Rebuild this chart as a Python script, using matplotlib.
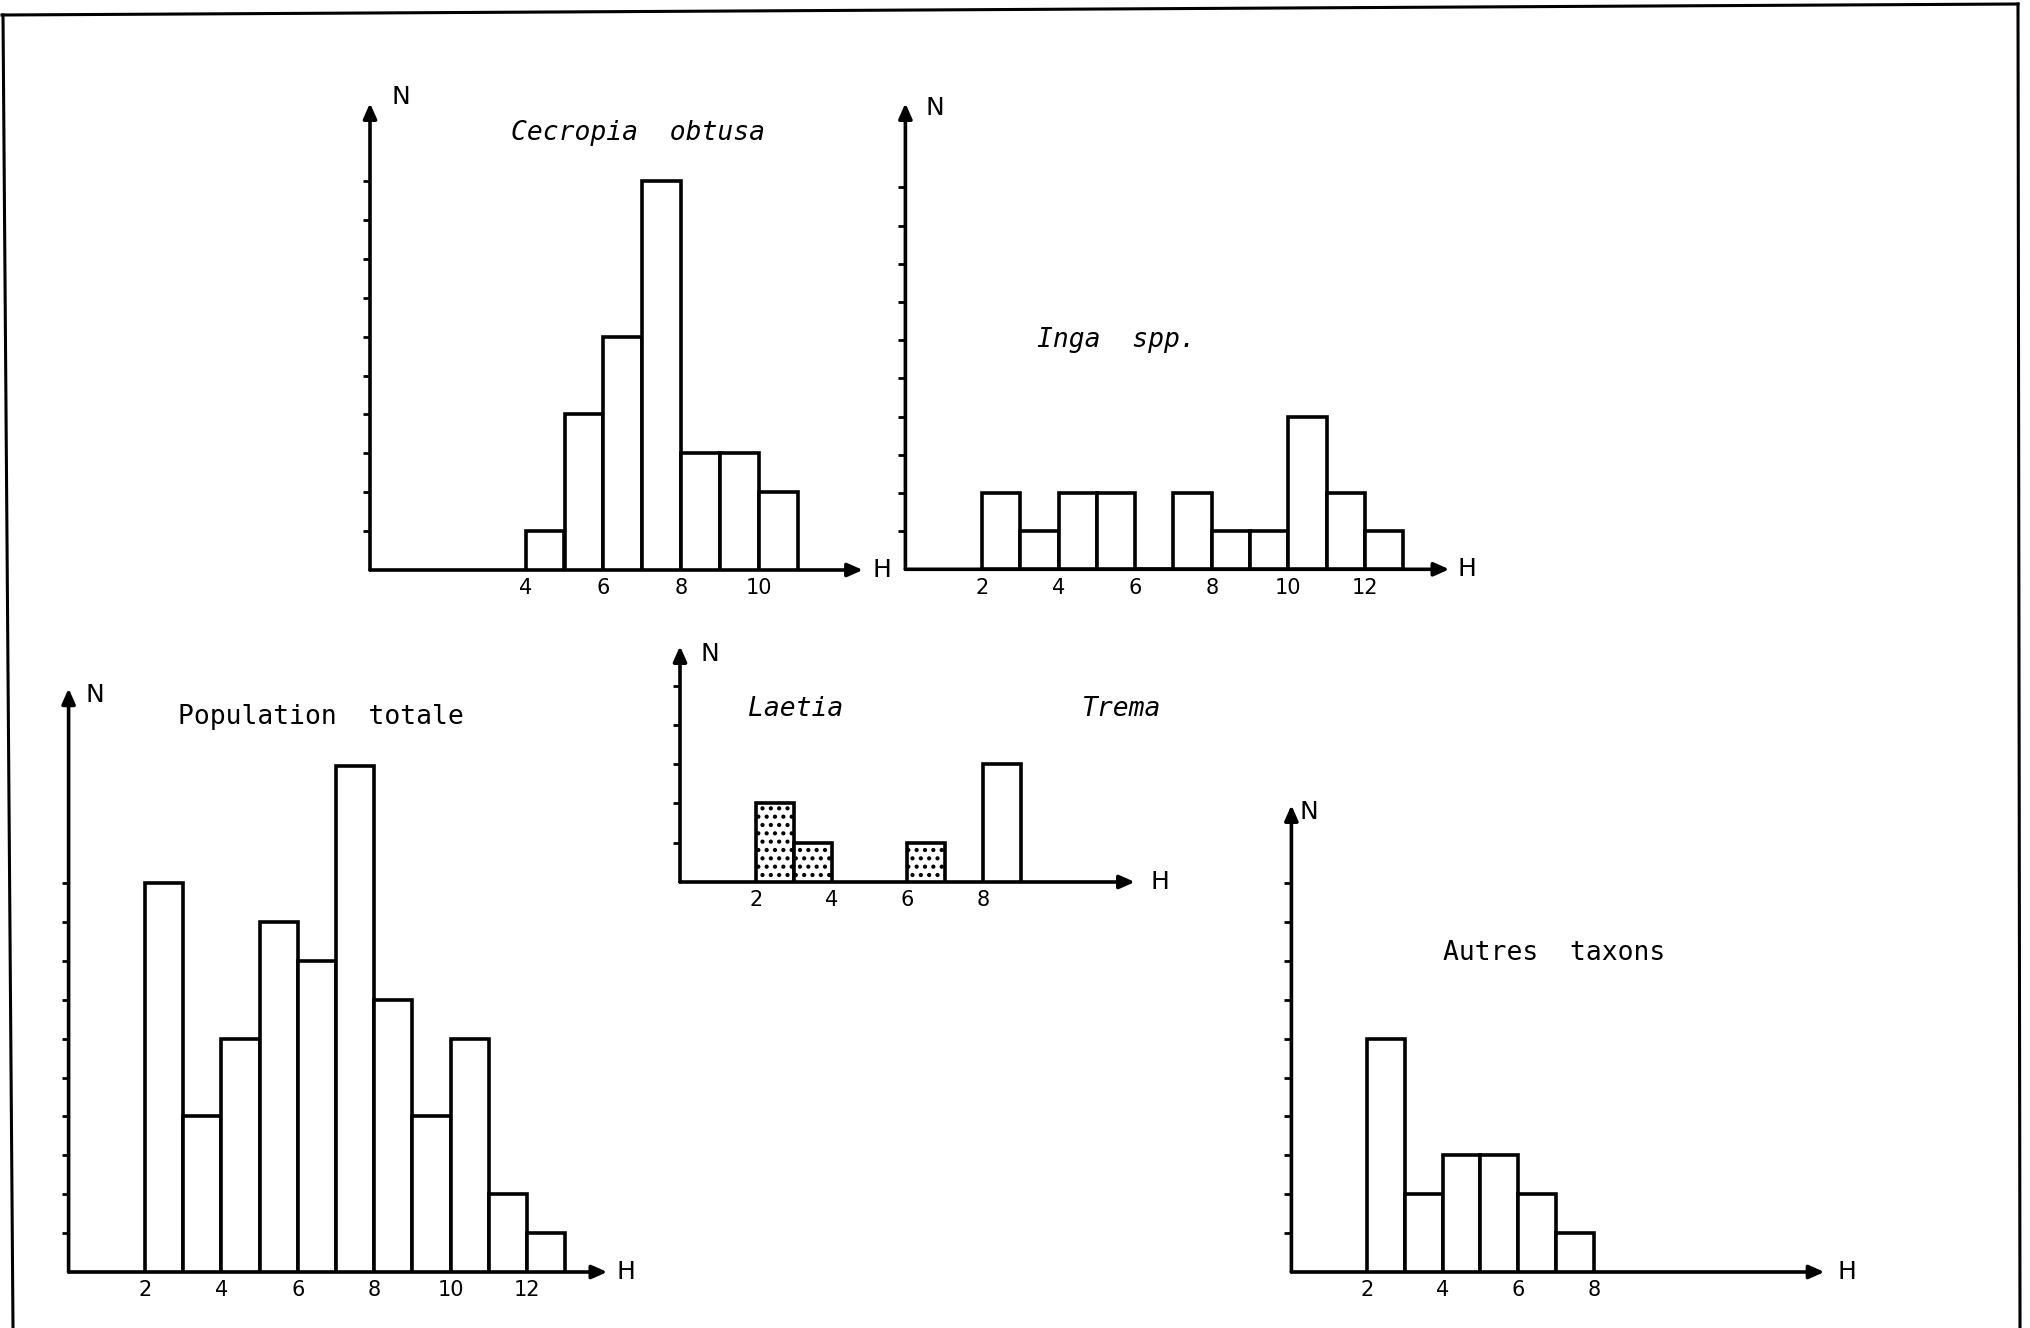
import matplotlib
matplotlib.use("Agg")
import matplotlib.pyplot as plt
from matplotlib.lines import Line2D

plt.rcParams['font.family'] = ['DejaVu Sans Mono', 'DejaVu Sans']
plt.rcParams['hatch.linewidth'] = 1.8

# ---------------- data (height classes H, counts N) ----------------
cecropia_bins = [4, 5, 6, 7, 8, 9, 10]
cecropia_n = [1, 4, 6, 10, 3, 3, 2]

inga_bins = [2, 3, 4, 5, 6, 7, 8, 9, 10, 11, 12]
inga_n = [2, 1, 2, 2, 0, 2, 1, 1, 4, 2, 1]

total_bins = [2, 3, 4, 5, 6, 7, 8, 9, 10, 11, 12]
total_n = [10, 4, 6, 9, 8, 13, 7, 4, 6, 2, 1]

laetia_bins = [2, 3, 6]
laetia_n = [2, 1, 1]

trema_bins = [8]
trema_n = [3]

autres_bins = [2, 3, 4, 5, 6, 7]
autres_n = [6, 2, 3, 3, 2, 1]

ticks_cecropia = [4, 6, 8, 10]
ticks_inga = [2, 4, 6, 8, 10, 12]
ticks_total = [2, 4, 6, 8, 10, 12]
ticks_lt = [2, 4, 6, 8]
ticks_autres = [2, 4, 6, 8]

# ---------------- layout ----------------
W, H = 2031, 1328
fig = plt.figure(figsize=(W / 100, H / 100), dpi=100)
fig.patch.set_facecolor('white')

LW = 2.6
TITLE = 19
TICK = 15
LETTER = 18
SANS = ['DejaVu Sans']


def make_axes(ox, oy, ux, uy, xmax, ymax, nticks, xticks):
    ax = fig.add_axes([ox / W, (H - oy) / H, xmax * ux / W, ymax * uy / H])
    ax.set_xlim(0, xmax)
    ax.set_ylim(0, ymax)
    for s in ax.spines.values():
        s.set_visible(False)
    ax.patch.set_visible(False)
    arrow = dict(arrowstyle='-|>,head_length=0.45,head_width=0.2', lw=LW,
                 color='black', shrinkA=0, shrinkB=0, mutation_scale=20)
    ax.annotate('', xy=(xmax, 0), xytext=(0, 0), arrowprops=arrow,
                annotation_clip=False)
    ax.annotate('', xy=(0, ymax), xytext=(0, 0), arrowprops=arrow,
                annotation_clip=False)
    ax.set_yticks(range(1, nticks + 1))
    ax.tick_params(axis='y', direction='out', length=5, width=2,
                   labelleft=False, color='black')
    ax.set_xticks(xticks)
    ax.set_xticklabels([str(t) for t in xticks], fontsize=TICK, family=SANS)
    ax.tick_params(axis='x', length=0, pad=6)
    return ax


def bars(ax, bins, n, hatch=None):
    ax.bar(bins, n, width=1, align='edge', facecolor='white',
           edgecolor='black', linewidth=LW, hatch=hatch, zorder=3)


def axis_letters(ax, nx, ny, hx):
    ax.text(nx, ny, 'N', fontsize=LETTER, family=SANS, ha='center', va='center')
    ax.text(hx, 0, 'H', fontsize=LETTER, family=SANS, ha='center', va='center')


# Cecropia obtusa
ax1 = make_axes(370, 570, 38.9, 38.9, 12.67, 12.0, 10, ticks_cecropia)
bars(ax1, cecropia_bins, cecropia_n)
axis_letters(ax1, 0.8, 12.17, 13.17)
ax1.text(6.9, 11.23, 'Cecropia  obtusa', fontsize=TITLE, style='italic',
         ha='center', va='center')

# Inga spp.
ax2 = make_axes(905.4, 569.3, 38.3, 38.2, 14.2, 12.2, 10, ticks_inga)
bars(ax2, inga_bins, inga_n)
axis_letters(ax2, 0.78, 12.08, 14.66)
ax2.text(5.5, 6.0, 'Inga  spp.', fontsize=TITLE, style='italic',
         ha='center', va='center')

# Population totale
ax3 = make_axes(68.6, 1272, 38.2, 38.9, 14.1, 15.0, 10, ticks_total)
bars(ax3, total_bins, total_n)
axis_letters(ax3, 0.7, 14.83, 14.6)
ax3.text(6.6, 14.27, 'Population  totale', fontsize=TITLE,
         ha='center', va='center')

# Laetia / Trema
ax4 = make_axes(680, 882, 37.9, 39.3, 12.0, 6.0, 5, ticks_lt)
bars(ax4, laetia_bins, laetia_n, hatch='..')
bars(ax4, trema_bins, trema_n)
axis_letters(ax4, 0.78, 5.8, 12.66)
ax4.text(3.04, 4.39, 'Laetia', fontsize=TITLE, style='italic',
         ha='center', va='center')
ax4.text(11.64, 4.39, 'Trema', fontsize=TITLE, style='italic',
         ha='center', va='center')

# Autres taxons
ax5 = make_axes(1291.4, 1272, 37.8, 38.9, 14.1, 12.0, 10, ticks_autres)
bars(ax5, autres_bins, autres_n)
axis_letters(ax5, 0.45, 11.83, 14.7)
ax5.text(6.95, 8.2, 'Autres  taxons', fontsize=TITLE, ha='center', va='center')

# outer frame of the scanned plate
for (x0, y0, x1, y1) in [(2, 15, 2018, 4), (3, 15, 13, 1328), (2018, 4, 2020, 1328)]:
    fig.add_artist(Line2D([x0 / W, x1 / W], [1 - y0 / H, 1 - y1 / H],
                          transform=fig.transFigure, color='black', lw=2.2))

fig.savefig('out.png', dpi=100, facecolor='white')
